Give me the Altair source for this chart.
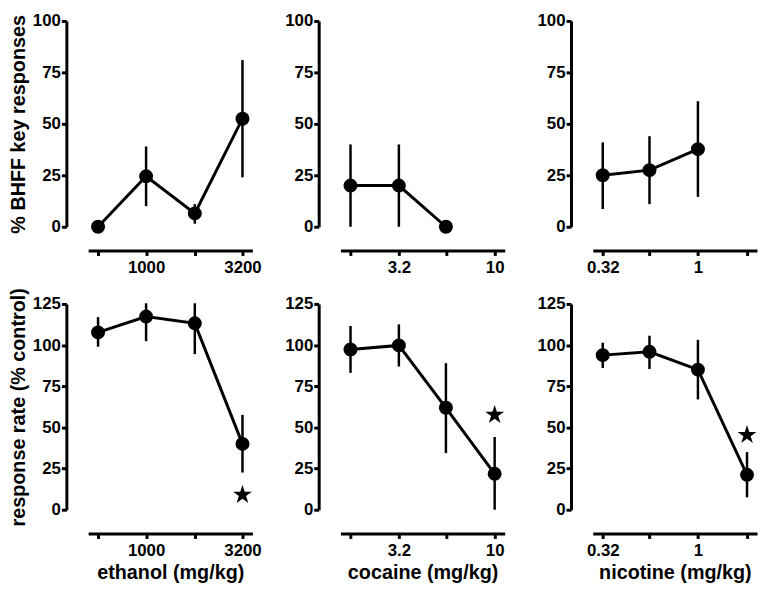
import altair as alt
import pandas as pd

# doses
eth_dose = [560, 1000, 1800, 3200]
coc_dose = [1.8, 3.2, 5.6, 10]
nic_dose = [0.32, 0.56, 1, 1.8]

# top row: % BHFF key responses (mean, lower, upper)
eth_top = [0, 24.5, 6.5, 52.5]
eth_top_lo = [0, 10, 1.5, 24]
eth_top_hi = [0, 39, 11, 81]

coc_top = [20, 20, 0]
coc_top_lo = [0, 0, 0]
coc_top_hi = [40, 40, 0]

nic_top = [25, 27.5, 37.7]
nic_top_lo = [8.6, 11, 14.5]
nic_top_hi = [41, 44, 61]

# bottom row: response rate (% control)
eth_bot = [107.7, 117.3, 113.2, 40]
eth_bot_lo = [99, 102.4, 94.5, 22.6]
eth_bot_hi = [117, 125.4, 125.4, 57.6]

coc_bot = [97.3, 99.8, 61.9, 21.8]
coc_bot_lo = [83.1, 87, 34.4, 0]
coc_bot_hi = [111.6, 112.6, 89, 44.2]

nic_bot = [93.9, 95.9, 85.1, 21.2]
nic_bot_lo = [86.1, 85.5, 67, 7.5]
nic_bot_hi = [101.4, 105.7, 103.2, 35]

# significance stars (dose, y)
eth_star = [(3200, 9)]
coc_star = [(10, 57.6)]
nic_star = [(1.8, 45.4)]

eth_labels = [1000, 3200]
coc_labels = [3.2, 10]
nic_labels = [0.32, 1]

STAR = ("M0,-1L0.2245,-0.309L0.951,-0.309L0.3633,0.118L0.5878,0.809"
        "L0,0.382L-0.5878,0.809L-0.3633,0.118L-0.951,-0.309L-0.2245,-0.309Z")

W, H = 166, 208
PAD = 1.127


def panel(doses, mean, lo, hi, stars, labels, ymax, ytitle, xtitle):
    n = len(mean)
    df = pd.DataFrame({"dose": doses[:n], "mean": mean, "lo": lo, "hi": hi})
    lab = ",".join(str(v) for v in labels)
    xaxis = alt.Axis(values=doses, labelExpr=f"indexof([{lab}], datum.value) >= 0 ? toString(datum.value) : ''",
                     offset=24, title=xtitle)
    xscale = alt.Scale(type="log", domain=[doses[0] / PAD, doses[-1] * PAD], nice=False)
    yvals = list(range(0, ymax + 1, 25))
    yaxis = alt.Axis(values=yvals, offset=22, title=ytitle)
    yscale = alt.Scale(domain=[0, ymax], nice=False, zero=True)
    x = alt.X("dose:Q", scale=xscale, axis=xaxis)
    base = alt.Chart(df)
    rules = base.mark_rule(color="black", strokeWidth=2.5).encode(
        x=x, y=alt.Y("lo:Q", scale=yscale, axis=yaxis), y2="hi:Q")
    line = base.mark_line(color="black", strokeWidth=3).encode(
        x=x, y=alt.Y("mean:Q", scale=yscale, axis=yaxis))
    pts = base.mark_circle(color="black", opacity=1, size=200).encode(
        x=x, y=alt.Y("mean:Q", scale=yscale, axis=yaxis))
    layers = [rules, line, pts]
    if stars:
        sdf = pd.DataFrame({"dose": [s[0] for s in stars], "mean": [s[1] for s in stars]})
        st = alt.Chart(sdf).mark_point(shape=STAR, filled=True, color="black", opacity=1, size=400).encode(
            x=x, y=alt.Y("mean:Q", scale=yscale, axis=yaxis))
        layers.append(st)
    return alt.layer(*layers).properties(width=W, height=H)


charts = [
    panel(eth_dose, eth_top, eth_top_lo, eth_top_hi, [], eth_labels, 100, "% BHFF key responses", ""),
    panel(coc_dose, coc_top, coc_top_lo, coc_top_hi, [], coc_labels, 100, "", ""),
    panel(nic_dose, nic_top, nic_top_lo, nic_top_hi, [], nic_labels, 100, "", ""),
    panel(eth_dose, eth_bot, eth_bot_lo, eth_bot_hi, eth_star, eth_labels, 125, "response rate (% control)", "ethanol (mg/kg)"),
    panel(coc_dose, coc_bot, coc_bot_lo, coc_bot_hi, coc_star, coc_labels, 125, "", "cocaine (mg/kg)"),
    panel(nic_dose, nic_bot, nic_bot_lo, nic_bot_hi, nic_star, nic_labels, 125, "", "nicotine (mg/kg)"),
]

chart = alt.concat(*charts, columns=3, spacing={"row": 78, "column": 89}, bounds="flush").properties(
    padding=0
).configure_view(stroke="transparent").configure_axis(
    grid=False,
    domainColor="black", domainWidth=3,
    tickColor="black", tickWidth=3, tickSize=5,
    labelFont="Liberation Sans", labelFontWeight="bold", labelFontSize=17, labelColor="black",
    titleFont="Liberation Sans", titleFontWeight="bold", titleFontSize=20, titleColor="black",
).configure_axisX(titlePadding=5, labelPadding=4).configure_axisY(titlePadding=4, labelPadding=1)

chart.save("out.html", embed_options={"renderer": "svg", "actions": False})
